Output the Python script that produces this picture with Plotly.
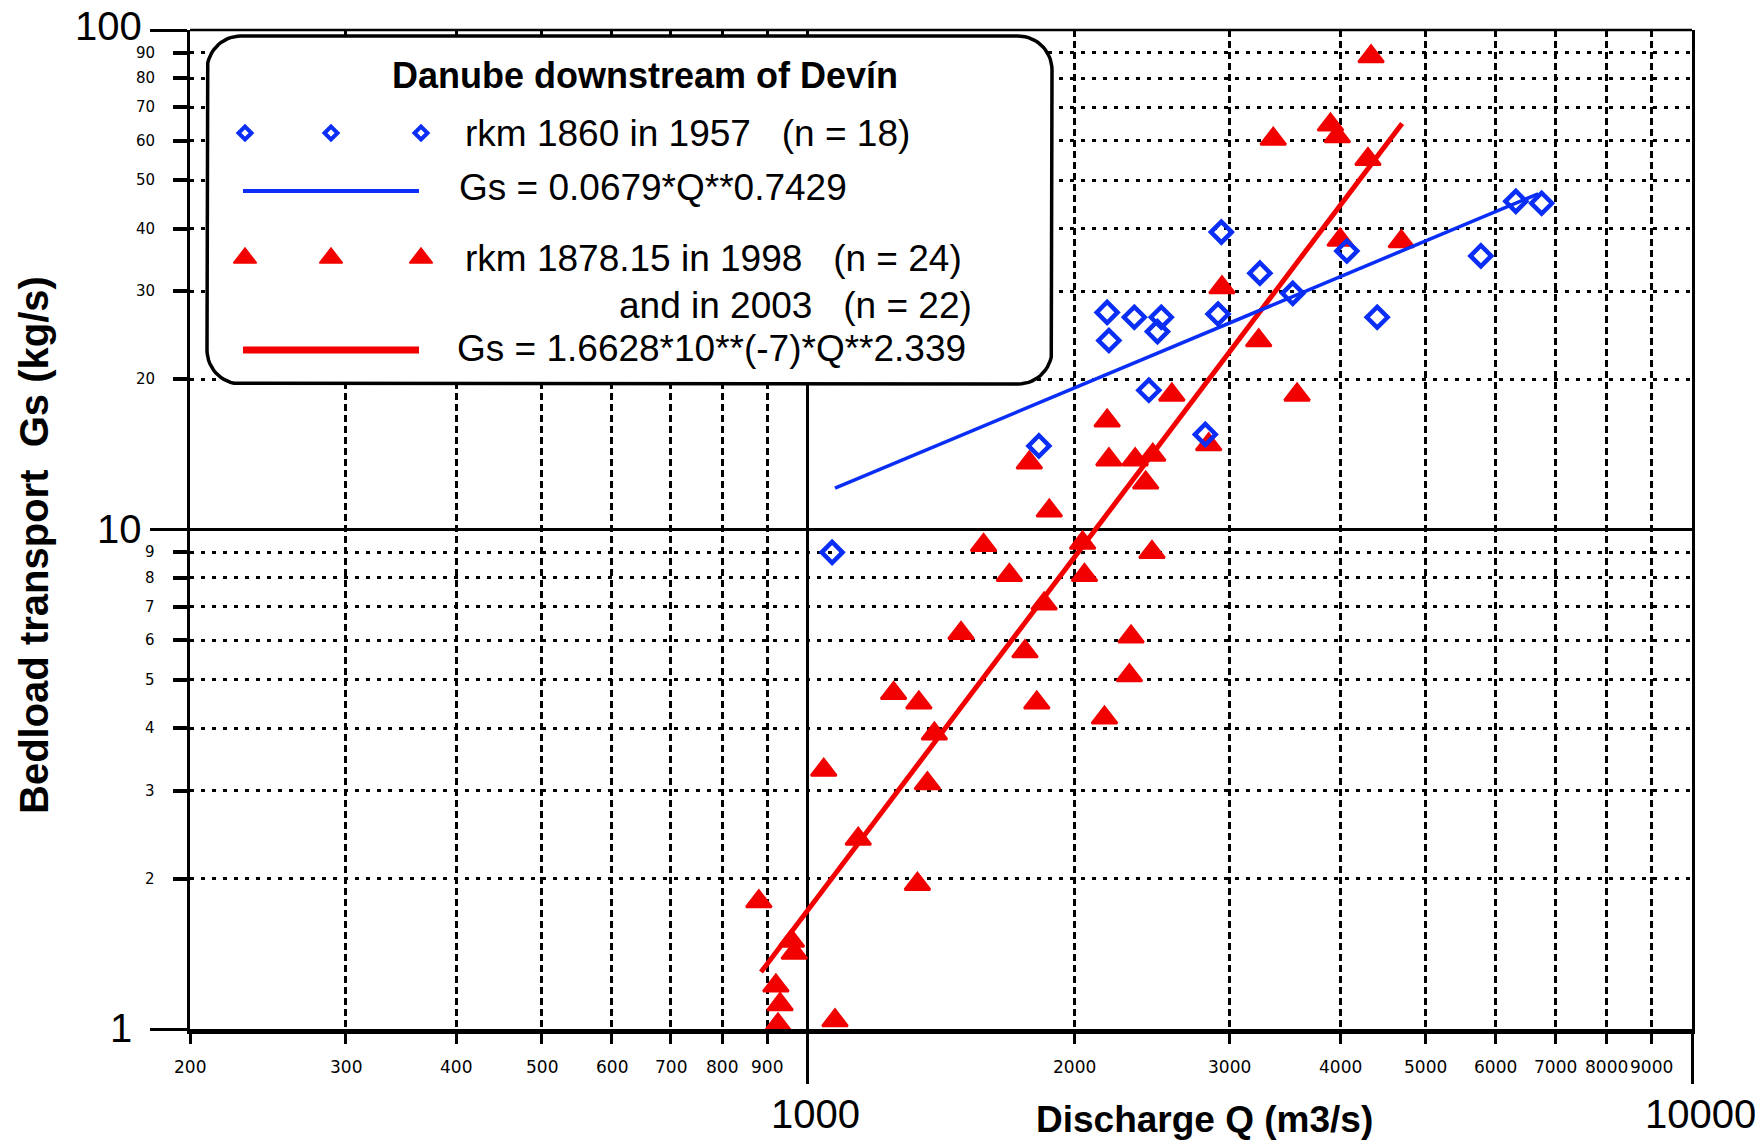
import numpy as np
import plotly.graph_objects as go

# ---------------- data ----------------
# rkm 1860 in 1957 (blue open diamonds)
blue_q = [6320, 6760, 5770, 2935, 4070, 3245, 3535, 4405, 2910, 2180,
          2340, 2510, 2485, 2190, 2430, 2815, 1825, 1065]
blue_gs = [45.4, 45.0, 35.3, 39.4, 36.1, 32.6, 29.7, 26.6, 27.0, 27.2,
           26.6, 26.6, 24.9, 23.9, 19.0, 15.5, 14.7, 9.0]

# rkm 1878.15 in 1998 and 2003 (red triangles)
red_q = [4335, 3360, 3900, 3970, 4300, 4000, 4690, 2940, 3235, 3575,
         2580, 2180, 1780, 2190, 2345, 2455, 2410, 2840, 1875, 2045,
         2450, 2055, 1690, 1580, 1850, 1490, 2320, 1760, 2310, 1250,
         1335, 1815, 2165, 1390, 1042, 1365, 1140, 1330, 880, 958,
         965, 920, 930, 925, 1073]
red_gs = [88.5, 60.5, 64.6, 61.2, 55.1, 38.0, 37.7, 30.5, 23.9, 18.6,
          18.6, 16.5, 13.6, 13.8, 13.8, 14.1, 12.4, 14.8, 10.9, 9.4,
          9.0, 8.1, 8.1, 9.3, 7.1, 6.2, 6.1, 5.7, 5.1, 4.7,
          4.5, 4.5, 4.2, 3.9, 3.3, 3.1, 2.4, 1.95, 1.8, 1.5,
          1.42, 1.22, 1.12, 1.02, 1.04]

# regression lines (end points)
blue_fit_q = [1073, 6700]
blue_fit_gs = [12.1, 47.0]
red_fit_q = [885, 4700]
red_fit_gs = [1.3, 65.0]

# axis ticks
x_minor_vals = [200, 300, 400, 500, 600, 700, 800, 900,
                2000, 3000, 4000, 5000, 6000, 7000, 8000, 9000]
x_minor_labels = [str(v) for v in x_minor_vals]
x_major_vals = [1000, 10000]
x_major_labels = ["1000", "10000"]
y_minor_vals = [2, 3, 4, 5, 6, 7, 8, 9, 20, 30, 40, 50, 60, 70, 80, 90]
y_minor_labels = [str(v) for v in y_minor_vals]
y_major_vals = [1, 10, 100]
y_major_labels = ["1", "10", "100"]

x_title = "Discharge Q (m3/s)"
y_title = "Bedload transport\u00a0\u00a0Gs (kg/s)"
legend_title = "Danube downstream of Devín"
legend_blue_pts = "rkm 1860 in 1957\u00a0\u00a0 (n = 18)"
legend_blue_fit = "Gs = 0.0679*Q**0.7429"
legend_red_pts = "rkm 1878.15 in 1998\u00a0\u00a0 (n = 24)"
legend_red_pts2 = "and in 2003\u00a0\u00a0 (n = 22)"
legend_red_fit = "Gs = 1.6628*10**(-7)*Q**2.339"

# ---------------- styling / layout constants ----------------
W, H = 1755, 1145
ML, MR, MT, MB = 190, 63, 30, 116
PW, PH = W - ML - MR, H - MT - MB
BLUE = "#0a2ef5"
RED = "#f20000"
FONT = "Liberation Sans"
SMALL_FONT = "DejaVu Sans"


def px(xp):
    return (xp - ML) / PW


def py(yp):
    return (H - MB - yp) / PH


fig = go.Figure()

# ----- data traces -----
fig.add_trace(go.Scatter(
    x=red_q, y=red_gs, mode="markers",
    marker=dict(symbol="triangle-up", size=22, color=RED,
                line=dict(width=2.5, color=RED)),
    cliponaxis=False, showlegend=False))
fig.add_trace(go.Scatter(
    x=red_fit_q, y=red_fit_gs, mode="lines",
    line=dict(color=RED, width=5), showlegend=False))
fig.add_trace(go.Scatter(
    x=blue_q, y=blue_gs, mode="markers",
    marker=dict(symbol="diamond-open", size=16, color=BLUE,
                line=dict(width=4.5, color=BLUE)),
    cliponaxis=False, showlegend=False))
fig.add_trace(go.Scatter(
    x=blue_fit_q, y=blue_fit_gs, mode="lines",
    line=dict(color=BLUE, width=3.5), showlegend=False))

# ----- legend box on an overlay (0..1) axis pair -----
bx0, bx1 = px(207), px(1052)
by0, by1 = py(384), py(36)
rx, ry = 34 / PW, 34 / PH
t = np.linspace(0, np.pi / 2, 16)
corner_x = np.concatenate([
    bx1 - rx + rx * np.sin(t),                 # top-right
    bx1 - rx + rx * np.cos(t),                 # bottom-right
    bx0 + rx - rx * np.sin(t),                 # bottom-left
    bx0 + rx - rx * np.cos(t),                 # top-left
])
corner_y = np.concatenate([
    by1 - ry + ry * np.cos(t),
    by0 + ry - ry * np.sin(t),
    by0 + ry - ry * np.cos(t),
    by1 - ry + ry * np.sin(t),
])
box_x = list(corner_x) + [corner_x[0]]
box_y = list(corner_y) + [corner_y[0]]
fig.add_trace(go.Scatter(
    x=box_x, y=box_y, xaxis="x2", yaxis="y2", mode="lines",
    fill="toself", fillcolor="white",
    line=dict(color="black", width=3.5), showlegend=False, hoverinfo="skip"))

gx = [px(245), px(331), px(421)]
fig.add_trace(go.Scatter(
    x=gx, y=[py(133)] * 3, xaxis="x2", yaxis="y2", mode="markers",
    marker=dict(symbol="diamond-open", size=10, color=BLUE,
                line=dict(width=4, color=BLUE)),
    showlegend=False, hoverinfo="skip"))
fig.add_trace(go.Scatter(
    x=[px(243), px(419)], y=[py(191)] * 2, xaxis="x2", yaxis="y2",
    mode="lines", line=dict(color=BLUE, width=4),
    showlegend=False, hoverinfo="skip"))
fig.add_trace(go.Scatter(
    x=gx, y=[py(258)] * 3, xaxis="x2", yaxis="y2", mode="markers",
    marker=dict(symbol="triangle-up", size=20, color=RED,
                line=dict(width=1.5, color=RED)),
    showlegend=False, hoverinfo="skip"))
fig.add_trace(go.Scatter(
    x=[px(243), px(419)], y=[py(350)] * 2, xaxis="x2", yaxis="y2",
    mode="lines", line=dict(color=RED, width=7),
    showlegend=False, hoverinfo="skip"))

# ----- annotations -----
ann = []
for v, lab in zip(y_minor_vals, y_minor_labels):
    ann.append(dict(xref="paper", x=0, xanchor="right", xshift=-33,
                    yref="y", y=np.log10(v), yanchor="middle",
                    text=lab, showarrow=False,
                    font=dict(family=SMALL_FONT, size=15, color="black")))
for v, lab in zip(y_major_vals, y_major_labels):
    ann.append(dict(xref="paper", x=0, xanchor="right",
                    xshift=-56 if lab == "1" else -46,
                    yref="y", y=np.log10(v), yanchor="middle",
                    yshift=4 if lab == "100" else 1,
                    text=lab, showarrow=False,
                    font=dict(family=FONT, size=40, color="black")))
for v, lab in zip(x_minor_vals, x_minor_labels):
    ann.append(dict(xref="x", x=np.log10(v), xanchor="center",
                    yref="paper", y=0, yanchor="middle", yshift=-38,
                    text=lab, showarrow=False,
                    font=dict(family=SMALL_FONT, size=17, color="black")))
for v, lab in zip(x_major_vals, x_major_labels):
    ann.append(dict(xref="x", x=np.log10(v), xanchor="center", xshift=8,
                    yref="paper", y=0, yanchor="middle", yshift=-85,
                    text=lab, showarrow=False,
                    font=dict(family=FONT, size=40, color="black")))

ann.append(dict(xref="paper", yref="paper", x=px(1204), y=py(1119),
                xanchor="center", yanchor="middle", showarrow=False,
                text="<b>" + x_title + "</b>",
                font=dict(family=FONT, size=37, color="black")))
ann.append(dict(xref="paper", yref="paper", x=px(34), y=py(545),
                xanchor="center", yanchor="middle", showarrow=False,
                textangle=-90, text="<b>" + y_title + "</b>",
                font=dict(family=FONT, size=40, color="black")))

ann.append(dict(xref="paper", yref="paper", x=px(645), y=py(76),
                xanchor="center", yanchor="middle", showarrow=False,
                text="<b>" + legend_title + "</b>",
                font=dict(family=FONT, size=36, color="black")))
leg_font = dict(family=FONT, size=37, color="black")
ann.append(dict(xref="paper", yref="paper", x=px(463), y=py(133),
                xanchor="left", yanchor="middle", showarrow=False,
                text=legend_blue_pts, font=leg_font))
ann.append(dict(xref="paper", yref="paper", x=px(457), y=py(187),
                xanchor="left", yanchor="middle", showarrow=False,
                text=legend_blue_fit, font=leg_font))
ann.append(dict(xref="paper", yref="paper", x=px(463), y=py(258),
                xanchor="left", yanchor="middle", showarrow=False,
                text=legend_red_pts, font=leg_font))
ann.append(dict(xref="paper", yref="paper", x=px(974), y=py(305),
                xanchor="right", yanchor="middle", showarrow=False,
                text=legend_red_pts2, font=leg_font))
ann.append(dict(xref="paper", yref="paper", x=px(455), y=py(348),
                xanchor="left", yanchor="middle", showarrow=False,
                text=legend_red_fit, font=leg_font))

fig.update_layout(
    width=W, height=H,
    margin=dict(l=ML, r=MR, t=MT, b=MB, pad=0),
    paper_bgcolor="white", plot_bgcolor="white",
    showlegend=False,
    xaxis=dict(
        type="log", range=[np.log10(200), 4], showline=True,
        linecolor="black", linewidth=5, zeroline=False,
        tickmode="array", tickvals=x_major_vals, showticklabels=False,
        ticks="outside", ticklen=50, tickwidth=2.5, tickcolor="black",
        showgrid=True, gridcolor="black", gridwidth=2.5,
        minor=dict(tickmode="array", tickvals=x_minor_vals,
                   ticks="outside", ticklen=10, tickwidth=2.5,
                   tickcolor="black", showgrid=True, gridcolor="black",
                   gridwidth=2.5, griddash="7px,4px"),
        fixedrange=True),
    yaxis=dict(
        type="log", range=[0, 2], showline=True, mirror=True,
        linecolor="black", linewidth=2.5, zeroline=False,
        tickmode="array", tickvals=y_major_vals, showticklabels=False,
        ticks="outside", ticklen=37, tickwidth=2.5, tickcolor="black",
        showgrid=True, gridcolor="black", gridwidth=2.5,
        minor=dict(tickmode="array", tickvals=y_minor_vals,
                   ticks="outside", ticklen=14, tickwidth=4,
                   tickcolor="black", showgrid=True, gridcolor="black",
                   gridwidth=3, griddash="4px,7px"),
        fixedrange=True),
    xaxis2=dict(overlaying="x", anchor="y2", range=[0, 1], visible=False,
                fixedrange=True),
    yaxis2=dict(overlaying="y", anchor="x2", range=[0, 1], visible=False,
                fixedrange=True),
    shapes=[dict(type="line", xref="paper", yref="paper", x0=0, x1=1,
                 y0=1, y1=1, line=dict(color="black", width=2.5),
                 layer="above")],
    annotations=ann,
)

fig.write_html("out.html", config={"displayModeBar": False})
